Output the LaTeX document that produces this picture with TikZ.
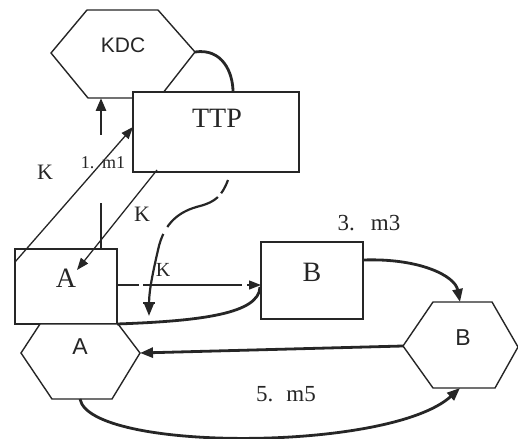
\documentclass[tikz,border=0pt]{standalone}
\usepackage{fontspec}
\setmainfont{Liberation Serif}
\newfontfamily\hexfont{Liberation Sans}
\usetikzlibrary{arrows.meta}
\definecolor{inkc}{gray}{0.15}
\begin{document}
\begin{tikzpicture}[x=1pt,y=-1pt,line join=miter,
  boxshape/.style={draw=inkc,line width=1.6pt,fill=white,inner sep=0pt,outer sep=0pt},
  hexline/.style={draw=inkc,line width=1.4pt,fill=white},
  thinline/.style={draw=inkc,line width=1.3pt},
  heavy/.style={draw=inkc,line width=2.8pt},
  thintip/.style={-{Triangle[length=12pt,width=9pt]}},
  heavytip/.style={-{Triangle[length=13pt,width=10pt]}},
  serifbig/.style={text=inkc,font=\fontsize{28}{28}\selectfont},
  sanslabel/.style={text=inkc,font=\hexfont\fontsize{23}{23}\selectfont},
  keylabel/.style={text=inkc,font=\fontsize{22}{22}\selectfont},
  msglabel/.style={text=inkc,font=\fontsize{23}{23}\selectfont}]
\useasboundingbox (0,0) rectangle (518,438);

% KDC hexagon
\draw[hexline] (51,53) -- (87,10) -- (158,10) -- (195,52) -- (159,98) -- (88,98) -- cycle;
\coordinate (kdcright) at (195,52);
\coordinate (kdcbottom) at (101,98);
\node[text=inkc,font=\hexfont\fontsize{21}{21}\selectfont] (kdctext) at (123,45) {KDC};

% TTP box (covers the lower corner of the hexagon)
\coordinate (ttptop) at (233,92);
\draw[heavy] (kdcright) .. controls (222,48) and (233,72) .. (ttptop);
\node[boxshape,minimum width=166pt,minimum height=80pt] (ttp) at (216,132) {};
\node[serifbig] (ttptext) at (217,118) {TTP};

% A box and A hexagon
\node[boxshape,minimum width=102pt,minimum height=75pt] (abox) at (66,286.5) {};
\node[serifbig] (atext) at (66,278) {A};
\draw[hexline] (21,353) -- (40,324) -- (118,324) -- (140,353) -- (112,399) -- (52,399) -- cycle;
\coordinate (ahexright) at (140,353);
\coordinate (ahexbottom) at (80,399);
\node[sanslabel] (ahextext) at (80,347) {A};

% B box and B hexagon
\node[boxshape,minimum width=102pt,minimum height=77pt] (bbox) at (312,280.5) {};
\node[serifbig] (btext) at (312,272) {B};
\draw[hexline] (403,346) -- (433,302) -- (492,302) -- (518,347) -- (495,388) -- (433,388) -- cycle;
\coordinate (bhexleft) at (403,346);
\coordinate (bhextop) at (460,302);
\coordinate (bhexbottom) at (460,388);
\node[sanslabel] (bhextext) at (463,338) {B};

% A -> KDC (vertical, interrupted)
\coordinate (upfrom) at (101,135);
\coordinate (upa) at (101,249);
\coordinate (upb) at (101,203);
\draw[heavy,heavytip] (upfrom) -- (kdcbottom);
\draw[heavy] (upa) -- (upb);

% A -> TTP and TTP -> A
\coordinate (k1from) at (15,262);
\coordinate (k1to) at (133,127);
\draw[thinline,thintip] (k1from) -- (k1to);
\coordinate (k2from) at (157,170);
\coordinate (k2to) at (77,270);
\draw[thinline,thintip] (k2from) -- (k2to);

% A -> B (dashed)
\coordinate (dashfrom) at (117,285);
\coordinate (dashto) at (261,285);
\draw[thinline,thintip,dash pattern=on 22pt off 4pt on 99pt off 5pt] (dashfrom) -- (dashto);

% TTP -> K (wavy, dashed)
\coordinate (wavefrom) at (228,180);
\coordinate (waveto) at (149,316);
\draw[draw=inkc,line width=2.2pt,dash pattern=on 15pt off 5pt on 60pt off 8pt on 120pt,
      -{Triangle[length=12pt,width=9pt]}]
  (wavefrom) .. controls (222,196) and (215,202) .. (200,206)
  .. controls (180,211) and (164,222) .. (158,250)
  .. controls (153,272) and (149,290) .. (waveto);
\draw[thinline] (143,303) -- (155,303);

% A box -> B box (curved)
\coordinate (curvefrom) at (117,324);
\coordinate (curveto) at (260,287);
\draw[heavy] (curvefrom) .. controls (200,321) and (259,314) .. (curveto);

% B box -> B hexagon
\coordinate (bboxout) at (363,260);
\draw[heavy,heavytip] (bboxout) .. controls (420,258) and (455,276) .. (bhextop);

% B hexagon -> A hexagon
\draw[heavy,heavytip] (bhexleft) -- (ahexright);

% A hexagon -> B hexagon
\draw[heavy,heavytip] (ahexbottom) .. controls (90,452) and (390,452) .. (bhexbottom);

% labels
\node[keylabel] (klabela) at (45,172) {K};
\node[text=inkc,font=\fontsize{18}{18}\selectfont] (msgone) at (103,163) {1.\hspace{8pt}m1};
\node[keylabel] (klabelb) at (142,214) {K};
\node[text=inkc,font=\fontsize{20}{20}\selectfont] (klabelc) at (163,270) {K};
\node[msglabel] (msgthree) at (369,223) {3.\hspace{16pt}m3};
\node[msglabel] (msgfive) at (286,394) {5.\hspace{13pt}m5};
\end{tikzpicture}
\end{document}
